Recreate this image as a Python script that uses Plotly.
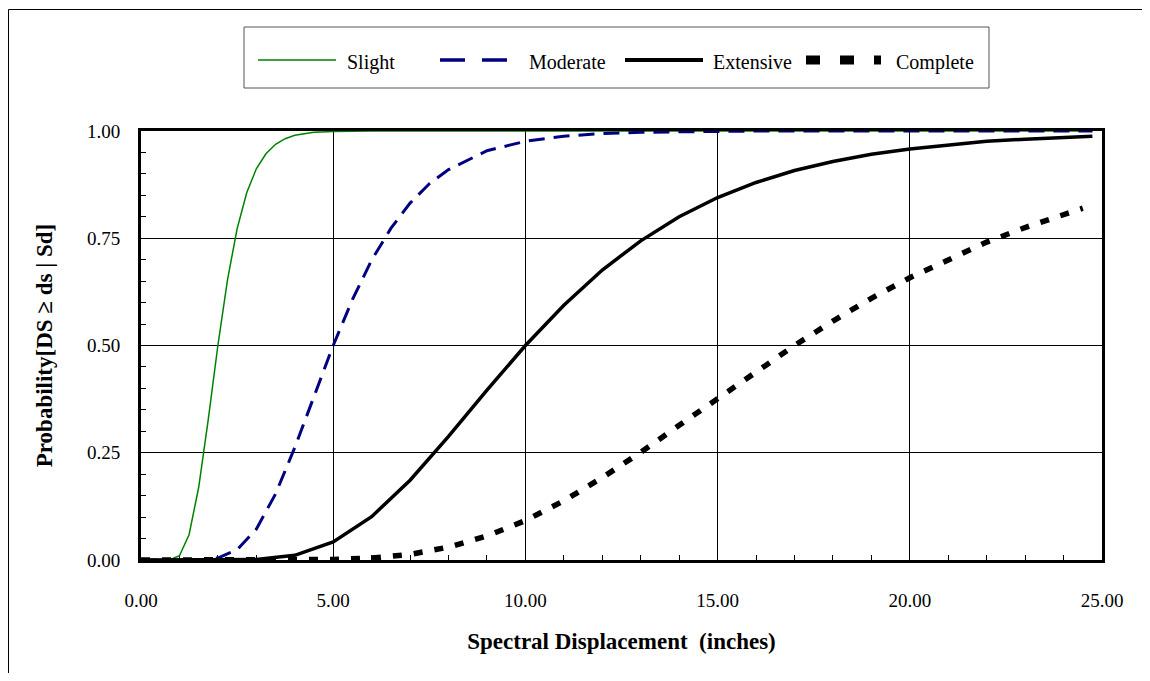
import plotly.graph_objects as go

# ---- data ----
sd_slight = [0.0, 0.5, 0.75, 1.0, 1.25, 1.5, 1.75, 2.0, 2.25, 2.5, 2.75, 3.0, 3.25, 3.5,
             3.75, 4.0, 4.5, 5.0, 6.0, 8.0, 10.0, 12.0, 14.0, 16.0, 18.0, 20.0, 22.0, 24.0, 24.75]
p_slight = [0.0, 0.0, 0.0005, 0.010, 0.059, 0.169, 0.328, 0.500, 0.653, 0.772, 0.856, 0.912,
            0.947, 0.969, 0.982, 0.990, 0.997, 0.999, 1.0, 1.0, 1.0, 1.0, 1.0, 1.0, 1.0, 1.0,
            1.0, 1.0, 1.0]

sd_moderate = [0.0, 1.0, 1.5, 2.0, 2.5, 3.0, 3.5, 4.0, 4.5, 5.0, 5.5, 6.0, 6.5, 7.0, 7.5,
               8.0, 9.0, 10.0, 11.0, 12.0, 13.0, 14.0, 15.0, 16.0, 18.0, 20.0, 22.0, 24.0, 24.75]
p_moderate = [0.0, 0.0, 0.0003, 0.0044, 0.024, 0.072, 0.154, 0.262, 0.382, 0.500, 0.607,
              0.699, 0.773, 0.832, 0.877, 0.910, 0.954, 0.976, 0.988, 0.994, 0.997, 0.998,
              0.999, 1.0, 1.0, 1.0, 1.0, 1.0, 1.0]

sd_extensive = [0.0, 1.0, 2.0, 3.0, 4.0, 5.0, 6.0, 7.0, 8.0, 9.0, 10.0, 11.0, 12.0, 13.0,
                14.0, 15.0, 16.0, 17.0, 18.0, 19.0, 20.0, 21.0, 22.0, 23.0, 24.0, 24.75]
p_extensive = [0.0, 0.0, 0.0, 0.0013, 0.011, 0.042, 0.101, 0.186, 0.288, 0.396, 0.500,
               0.594, 0.676, 0.744, 0.800, 0.845, 0.880, 0.908, 0.929, 0.946, 0.958,
               0.968, 0.976, 0.981, 0.986, 0.988]

sd_complete = [0.0, 1.0, 2.0, 3.0, 4.0, 5.0, 6.0, 7.0, 8.0, 9.0, 10.0, 11.0, 12.0, 13.0,
               14.0, 15.0, 16.0, 17.0, 18.0, 19.0, 20.0, 21.0, 22.0, 23.0, 24.0, 24.5]
p_complete = [0.0, 0.0, 0.0, 0.0, 0.0002, 0.0011, 0.0046, 0.013, 0.030, 0.056, 0.092,
              0.138, 0.192, 0.251, 0.314, 0.377, 0.440, 0.500, 0.557, 0.610, 0.658,
              0.701, 0.741, 0.775, 0.806, 0.820]

series_names = ["Slight", "Moderate", "Extensive", "Complete"]
x_ticks = [0, 5, 10, 15, 20, 25]
y_ticks = [0, 0.25, 0.5, 0.75, 1.0]
x_title = "Spectral Displacement  (inches)"
y_title = "Probability[DS \u2265 ds | Sd]"

# ---- styling / layout (page has an 8px body margin; keep the page free of scrollbars) ----
OFF = 8
W, H = 1150 - 2 * OFF, 681 - 2 * OFF
L, R, T, B = 141 - OFF, 1102 - OFF, 131 - OFF, 560 - OFF
FONT = "Liberation Serif, Times New Roman, serif"
styles = [
    dict(color="#008000", width=1.5, dash="solid"),
    dict(color="#000080", width=3, dash="16px,9px"),
    dict(color="#000000", width=3.5, dash="solid"),
    dict(color="#000000", width=5.5, dash="9px,12px"),
]

def px(xs):
    return (xs - OFF - L) / (R - L)

def py(ys):
    return (B - (ys - OFF)) / (B - T)

fig = go.Figure()
for name, xs, ys, st in zip(series_names,
                            [sd_slight, sd_moderate, sd_extensive, sd_complete],
                            [p_slight, p_moderate, p_extensive, p_complete], styles):
    fig.add_trace(go.Scatter(x=xs, y=ys, mode="lines", name=name, line=st,
                             showlegend=False, cliponaxis=False))

axis_common = dict(
    showline=True, linecolor="black", linewidth=3, mirror=True,
    showgrid=True, gridcolor="black", gridwidth=1, zeroline=False,
    ticks="inside", ticklen=6, tickcolor="black", tickwidth=1,
    tickfont=dict(family=FONT, size=19, color="black"),
    layer="below traces",
)
fig.update_xaxes(range=[0, 25], tickvals=x_ticks, tickformat=".2f",
                 minor=dict(dtick=1, ticks="inside", ticklen=5, tickcolor="black", showgrid=False),
                 ticklabelstandoff=21,
                 title=dict(text="<b>" + x_title + "</b>", font=dict(family=FONT, size=23, color="black"),
                            standoff=24),
                 **axis_common)
fig.update_yaxes(range=[0, 1], tickvals=y_ticks, tickformat=".2f",
                 minor=dict(dtick=0.05, ticks="inside", ticklen=5, tickcolor="black", showgrid=False),
                 ticklabelstandoff=14,
                 title=dict(text="<b>" + y_title + "</b>", font=dict(family=FONT, size=23, color="black"),
                            standoff=28),
                 **axis_common)

shapes = []
annotations = []
# outer frame (top and left edges only are visible)
shapes.append(dict(type="line", xref="paper", yref="paper", x0=px(8.5), x1=px(1160), y0=py(9.5), y1=py(9.5),
                   line=dict(color="black", width=1), layer="below"))
shapes.append(dict(type="line", xref="paper", yref="paper", x0=px(8.5), x1=px(8.5), y0=py(9.5), y1=py(700),
                   line=dict(color="black", width=1), layer="below"))
# legend box
shapes.append(dict(type="rect", xref="paper", yref="paper", x0=px(244), x1=px(989), y0=py(88), y1=py(27),
                   line=dict(color="#555555", width=1), fillcolor="white", layer="below"))
leg_items = [(258, 336, 345), (440, 508, 527), (625, 703, 711), (806, 881, 894)]
leg_styles = [
    dict(color="#008000", width=1.5, dash="solid"),
    dict(color="#000080", width=3.5, dash="25px,17px"),
    dict(color="#000000", width=4, dash="solid"),
    dict(color="#000000", width=9, dash="14px,20px"),
]
for (a, b, t), st, name in zip(leg_items, leg_styles, series_names):
    shapes.append(dict(type="line", xref="paper", yref="paper", x0=px(a), x1=px(b), y0=py(60), y1=py(60),
                       line=st))
    annotations.append(dict(xref="paper", yref="paper", x=px(t), y=py(62), text=name, showarrow=False,
                            xanchor="left", yanchor="middle",
                            font=dict(family=FONT, size=20, color="black")))

fig.update_layout(
    width=W, height=H,
    margin=dict(l=L, r=W - R, t=T, b=H - B, autoexpand=False),
    paper_bgcolor="white", plot_bgcolor="white",
    shapes=shapes, annotations=annotations,
    font=dict(family=FONT, color="black"),
    showlegend=False,
)
fig.write_html("out.html")
